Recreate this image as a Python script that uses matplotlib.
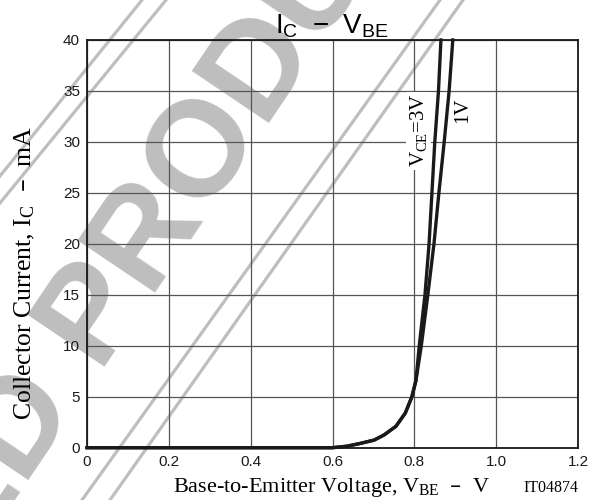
import matplotlib
matplotlib.use('Agg')
import matplotlib.pyplot as plt

# data
vbe_low = [0.0, 0.60, 0.636, 0.669, 0.702, 0.726, 0.755, 0.778, 0.794, 0.804]
ic_low = [0.0, 0.0, 0.15, 0.43, 0.75, 1.25, 2.1, 3.4, 5.0, 6.6]

vbe_3v = [0.812, 0.826, 0.836, 0.843, 0.850, 0.859, 0.865]
ic_3v = [10, 15, 20, 25, 30, 35, 40]

vbe_1v = [0.817, 0.833, 0.848, 0.860, 0.873, 0.885, 0.894]
ic_1v = [10, 15, 20, 25, 30, 35, 40]

x_ticks = [0, 0.2, 0.4, 0.6, 0.8, 1.0, 1.2]
x_labels = ['0', '0.2', '0.4', '0.6', '0.8', '1.0', '1.2']
y_ticks = [0, 5, 10, 15, 20, 25, 30, 35, 40]
y_labels = ['0', '5', '10', '15', '20', '25', '30', '35', '40']

W, H = 599, 500


def fx(x, y):
    # image pixel -> figure fraction
    return x / W, 1 - y / H


plt.rcParams['font.family'] = ['Liberation Sans', 'DejaVu Sans']

fig = plt.figure(figsize=(W / 100, H / 100), dpi=100)
fig.patch.set_facecolor('white')

ax = fig.add_axes([87 / W, 1 - 447.7 / H, (578 - 87) / W, (447.7 - 40) / H])
ax.set_facecolor('none')

# watermark behind the chart
wm = '#bebebe'
for (x0, y0), (x1, y1) in [((0, 176), (142, 0)), ((0, 203), (166, 0)),
                           ((82, 500), (440, 0)), ((110, 500), (463, 0))]:
    a, b = fx(x0, y0)
    c, d = fx(x1, y1)
    ax.plot([a, c], [b, d], transform=fig.transFigure, color=wm, lw=2.3,
            zorder=0.1, clip_on=False)

fig.text(*fx(96, 366.6), 'PRODUCT', rotation=56, rotation_mode='anchor',
         ha='left', va='baseline', fontsize=98, fontweight='bold',
         color=wm, zorder=-1)
fig.text(*fx(75.3, 397.3), 'DISCONTINUED', rotation=56, rotation_mode='anchor',
         ha='right', va='baseline', fontsize=98, fontweight='bold',
         color=wm, zorder=-1)

ax.plot(vbe_low + vbe_3v, ic_low + ic_3v, color='#1a1a1a', lw=2.4,
        zorder=4, clip_on=False)
ax.plot(vbe_low + vbe_1v, ic_low + ic_1v, color='#1a1a1a', lw=2.4,
        zorder=4, clip_on=False)

ax.set_xlim(0, 1.2)
ax.set_ylim(0, 40)
ax.set_xticks(x_ticks)
ax.set_xticklabels(x_labels)
ax.set_yticks(y_ticks)
ax.set_yticklabels(y_labels)
ax.tick_params(length=0, pad=5, labelsize=11, colors='#1a1a1a')
ax.set_axisbelow(True)
ax.grid(True, color='#555555', lw=0.9)
for s in ax.spines.values():
    s.set_linewidth(1.3)
    s.set_color('#1a1a1a')

serif = ['Liberation Serif', 'DejaVu Serif']
ax.text(0.811, 31.1, r'$\mathregular{V_{CE}}$=3V', rotation=90, ha='center',
        va='center', family=serif, fontsize=15, zorder=3,
        bbox=dict(facecolor='white', edgecolor='none', pad=1.5))
ax.text(0.919, 33.1, '1V', rotation=90, ha='center', va='center',
        family=serif, fontsize=15, zorder=3,
        bbox=dict(facecolor='white', edgecolor='none', pad=1.5))

fig.text(*fx(332, 33.3), r'$\mathregular{I_C\ -\ V_{BE}}$', ha='center',
         va='baseline', fontsize=20)
fig.text(*fx(25, 273), r'Collector Current, $\mathregular{I_C}$  –  mA',
         rotation=90, ha='center', va='center', family=serif, fontsize=18.5)
fig.text(*fx(332, 492), r'Base-to-Emitter Voltage, $\mathregular{V_{BE}}$  –  V',
         ha='center', va='baseline', family=serif, fontsize=16)
fig.text(*fx(578, 492), 'IT04874', ha='right', va='baseline',
         family=serif, fontsize=11.5)

fig.savefig('out.png', dpi=100)
